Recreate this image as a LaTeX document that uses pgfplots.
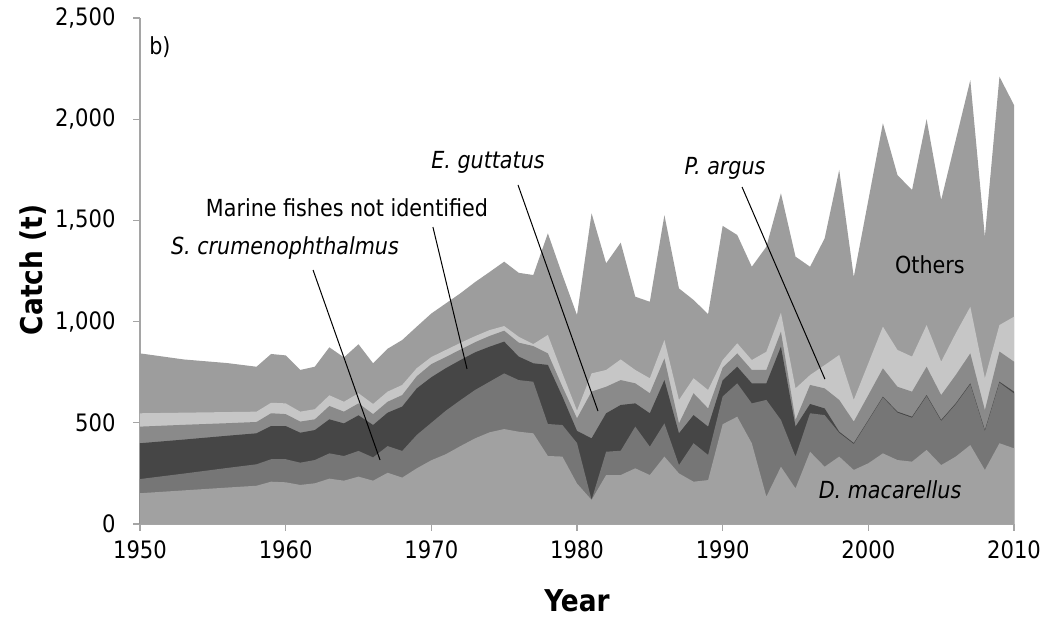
\documentclass[border=0pt]{standalone}
\usepackage{fontspec}
\setmainfont{DejaVu Sans}[FakeStretch=0.88]
\usepackage{pgfplots}
\usepackage{pgfplotstable}
\pgfplotsset{compat=1.18}
\definecolor{cDM}{RGB}{161,161,161}
\definecolor{cSC}{RGB}{118,118,118}
\definecolor{cMF}{RGB}{70,70,70}
\definecolor{cEG}{RGB}{138,138,138}
\definecolor{cPA}{RGB}{198,198,198}
\definecolor{cOT}{RGB}{157,157,157}
\definecolor{axisgray}{RGB}{165,165,165}
\newcommand\annot{\fontsize{23.5}{28}\selectfont}
% cumulative tops of the stacked layers (t)
\pgfplotstableread{
Year DM SC MF EG PA OT
1950 152 222 399 481 547 843
1953 166 249 417 490 550 813
1956 180 277 436 498 553 795
1958 189 295 448 504 555 777
1959 209 320 484 547 599 840
1960 206 320 484 543 596 833
1961 193 303 451 506 555 761
1962 201 316 464 517 567 777
1963 224 349 517 583 636 873
1964 214 336 497 555 604 823
1965 234 361 537 596 646 888
1966 214 329 489 543 593 794
1967 253 385 550 604 654 866
1968 229 361 580 637 687 909
1969 275 440 670 730 770 975
1970 315 500 725 790 825 1040
1971 345 560 770 825 860 1090
1972 385 612 810 862 895 1140
1973 423 662 848 898 928 1195
1974 453 703 876 929 958 1245
1975 469 744 901 955 978 1296
1976 456 711 827 896 925 1241
1977 448 703 794 879 889 1230
1978 336 494 786 843 934 1436
1979 333 489 629 678 744 1230
1980 200 400 460 522 560 1032
1981 119 119 423 654 744 1535
1982 242 357 547 678 761 1288
1983 242 362 588 711 813 1390
1984 275 481 596 695 761 1123
1985 242 382 547 646 720 1098
1986 333 497 711 818 909 1526
1987 250 291 448 497 613 1164
1988 209 399 538 646 720 1107
1989 217 341 481 571 662 1037
1990 493 630 710 772 810 1473
1991 530 695 777 843 893 1428
1992 399 596 695 761 810 1271
1993 135 613 695 761 851 1370
1994 283 514 876 950 1044 1634
1995 176 333 481 514 670 1321
1996 357 547 593 687 736 1271
1997 283 538 571 670 785 1411
1998 333 450 456 613 835 1749
1999 267 395 400 506 613 1220
2000 300 510 514 637 794 1600
2001 349 625 629 769 975 1980
2002 316 550 555 678 860 1724
2003 308 525 530 654 827 1650
2004 366 632 637 777 983 2000
2005 291 509 514 637 802 1601
2006 333 591 596 736 942 1897
2007 390 690 695 843 1073 2193
2008 267 459 464 563 720 1419
2009 399 698 703 852 983 2210
2010 374 645 654 802 1024 2070
}\catch

\begin{document}
\begin{tikzpicture}
\useasboundingbox (-140pt,-93pt) rectangle (909pt,524pt);
\begin{axis}[
  at={(0pt,0pt)}, anchor=south west,
  scale only axis, width=874pt, height=506pt,
  xmin=1950, xmax=2010, ymin=0, ymax=2500,
  axis x line*=bottom, axis y line*=left,
  axis line style={draw=axisgray, line width=1.2pt},
  xtick={1950,1960,...,2010}, ytick={0,500,...,2500},
  tick style={draw=axisgray, line width=1.2pt},
  tick align=outside, major tick length=7pt,
  minor tick num=0,
  /pgf/number format/assume math mode=true,
  y tick label style={/pgf/number format/1000 sep={,}, font=\fontsize{24}{28}\selectfont, xshift=-14pt},
  x tick label style={/pgf/number format/1000 sep={}, font=\fontsize{24}{28}\selectfont, yshift=-6pt},
  xlabel={Year}, ylabel={Catch (t)},
  label style={font=\fontsize{30}{34}\selectfont\bfseries, inner sep=0pt},
  xlabel style={at={(axis description cs:0.5,-0.152)}, anchor=center},
  ylabel style={at={(axis description cs:-0.1224,0.502)}, anchor=center, rotate=0},
]
\addplot[fill=cOT, draw=none] table[x=Year,y=OT]{\catch} \closedcycle;
\addplot[fill=cPA, draw=none] table[x=Year,y=PA]{\catch} \closedcycle;
\addplot[fill=cEG, draw=none] table[x=Year,y=EG]{\catch} \closedcycle;
\addplot[fill=cMF, draw=none] table[x=Year,y=MF]{\catch} \closedcycle;
\addplot[fill=cSC, draw=none] table[x=Year,y=SC]{\catch} \closedcycle;
\addplot[fill=cDM, draw=none] table[x=Year,y=DM]{\catch} \closedcycle;

\draw[black, line width=1pt] (axis cs:1961.88,1255) -- (axis cs:1966.48,316);
\draw[black, line width=1pt] (axis cs:1970.11,1467) -- (axis cs:1972.45,766);
\draw[black, line width=1pt] (axis cs:1975.95,1675) -- (axis cs:1981.44,558);
\draw[black, line width=1pt] (axis cs:1991.33,1665) -- (axis cs:1997.02,716);

\node[font=\annot] at (axis cs:1951.37,2357) {b)};
\node[font=\annot\itshape] at (axis cs:1959.95,1364) {S. crumenophthalmus};
\node[font=\annot] at (axis cs:1964.21,1561) {Marine fishes not identified};
\node[font=\annot\itshape] at (axis cs:1973.89,1789) {E. guttatus};
\node[font=\annot\itshape] at (axis cs:1990.16,1759) {P. argus};
\node[font=\annot] at (axis cs:2004.23,1280) {Others};
\node[font=\annot\itshape] at (axis cs:2001.49,168) {D. macarellus};
\end{axis}
\end{tikzpicture}
\end{document}
